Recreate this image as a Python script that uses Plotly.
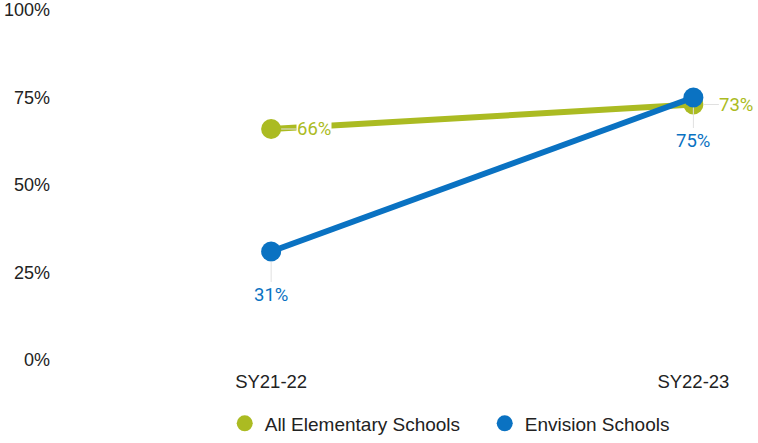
import plotly.graph_objects as go

years = ["SY21-22", "SY22-23"]
all_elem = [66, 73]
envision = [31, 75]
series_names = ["All Elementary Schools", "Envision Schools"]
y_ticks = [0, 25, 50, 75, 100]
y_tick_labels = ["0%", "25%", "50%", "75%", "100%"]

GREEN = "#abbb22"
BLUE = "#0a72c2"
xpos = list(range(len(years)))

fig = go.Figure()
for name, vals, col in [(series_names[0], all_elem, GREEN), (series_names[1], envision, BLUE)]:
    fig.add_trace(go.Scatter(x=xpos, y=vals, name=name, mode="lines+markers",
                             line=dict(color=col, width=6), marker=dict(size=20, color=col),
                             cliponaxis=False, showlegend=False))
for name, col in [(series_names[0], GREEN), (series_names[1], BLUE)]:
    fig.add_trace(go.Scatter(x=[None], y=[None], name=name, mode="markers",
                             marker=dict(size=18, color=col), showlegend=True))

ann = []
for i, v in enumerate(all_elem):
    ann.append(dict(x=xpos[i], y=v, xref="x", yref="y", text=f"{v}%", showarrow=True,
                    ax=43, ay=0, arrowhead=0, arrowwidth=1, arrowcolor="#e0e0e0", standoff=10,
                    bgcolor="white", borderpad=0,
                    font=dict(family="Roboto", size=18.5, color=GREEN)))
for i, v in enumerate(envision):
    ann.append(dict(x=xpos[i], y=v, xref="x", yref="y", text=f"{v}%", showarrow=True,
                    ax=0, ay=43, arrowhead=0, arrowwidth=1, arrowcolor="#e0e0e0", standoff=10,
                    font=dict(family="Roboto", size=18.5, color=BLUE)))

fig.update_layout(
    width=758, height=443,
    margin=dict(l=60, r=0, t=8, b=82),
    plot_bgcolor="white", paper_bgcolor="white",
    font=dict(family="Liberation Sans, Arial", size=18.5, color="#222"),
    xaxis=dict(range=[-0.5, 1.153], tickvals=xpos, ticktext=years, showgrid=False,
               zeroline=False, showline=False, ticks="", tickfont=dict(size=18.5),
               ticklabelstandoff=8),
    yaxis=dict(range=[0, 100], tickvals=y_ticks, ticktext=y_tick_labels, showgrid=False,
               zeroline=False, showline=False, ticks="", tickfont=dict(size=18),
               ticklabelstandoff=9, ticklabeloverflow="allow"),
    legend=dict(orientation="h", x=0.236, xanchor="left", y=-0.127, yanchor="top",
                font=dict(size=19), itemsizing="trace",
                entrywidth=215, entrywidthmode="pixels"),
    annotations=ann,
    showlegend=True,
)
fig.write_html("out.html", config={"displayModeBar": False},
               post_script="document.body.style.margin='0';")
